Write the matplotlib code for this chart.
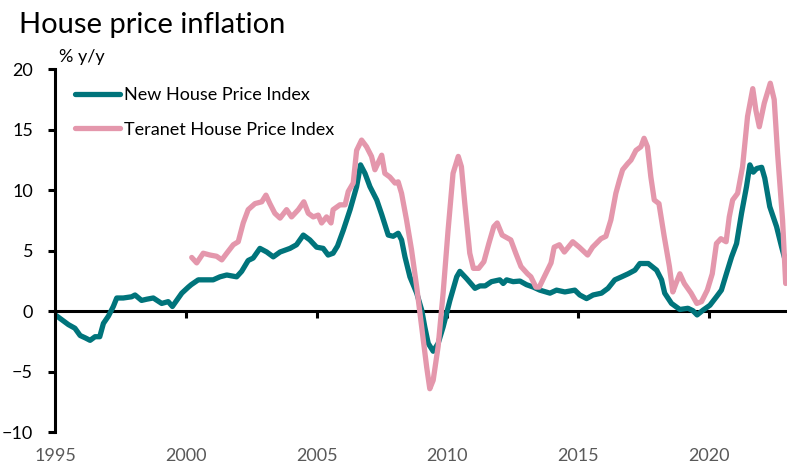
import matplotlib
matplotlib.use('Agg')
import matplotlib.pyplot as plt

plt.rcParams['font.family'] = ['Lato', 'DejaVu Sans']

# ---- data (decimal years, % y/y) ----
nhpi_x = [1995.0, 1995.25, 1995.5, 1995.75, 1995.95, 1996.15, 1996.33, 1996.52, 1996.7, 1996.84,
          1997.03, 1997.22, 1997.35, 1997.6, 1997.92, 1998.05, 1998.3, 1998.5, 1998.75, 1999.07,
          1999.32, 1999.48, 1999.84, 2000.09, 2000.2, 2000.47, 2000.73, 2001.04, 2001.3, 2001.56,
          2001.94, 2002.13, 2002.38, 2002.57, 2002.83, 2003.09, 2003.34, 2003.6, 2003.98, 2004.23,
          2004.49, 2004.74, 2005.0, 2005.25, 2005.44, 2005.63, 2005.8, 2006.02, 2006.28, 2006.53,
          2006.68, 2006.85, 2007.04, 2007.3, 2007.49, 2007.74, 2007.93, 2008.12, 2008.25, 2008.38,
          2008.57, 2008.83, 2009.02, 2009.14, 2009.27, 2009.46, 2009.65, 2009.84, 2010.1, 2010.36,
          2010.48, 2010.74, 2011.06, 2011.25, 2011.45, 2011.69, 2012.01, 2012.14, 2012.27, 2012.52,
          2012.78, 2013.03, 2013.29, 2013.54, 2013.93, 2014.18, 2014.5, 2014.88, 2015.07, 2015.33,
          2015.58, 2015.9, 2016.15, 2016.41, 2016.67, 2016.92, 2017.18, 2017.37, 2017.69, 2018.01,
          2018.2, 2018.32, 2018.58, 2018.9, 2019.21, 2019.4, 2019.56, 2019.79, 2020.05, 2020.3,
          2020.49, 2020.68, 2020.88, 2021.07, 2021.26, 2021.45, 2021.58, 2021.71, 2021.84, 2022.03,
          2022.15, 2022.34, 2022.6, 2022.79, 2022.92]
nhpi_y = [-0.3, -0.7, -1.1, -1.4, -2.0, -2.2, -2.4, -2.1, -2.1, -1.0,
          -0.4, 0.4, 1.1, 1.1, 1.2, 1.35, 0.9, 1.0, 1.1, 0.65,
          0.8, 0.4, 1.5, 2.0, 2.2, 2.6, 2.6, 2.6, 2.85, 3.0,
          2.85, 3.3, 4.2, 4.4, 5.2, 4.9, 4.5, 4.9, 5.2, 5.5,
          6.3, 5.9, 5.3, 5.2, 4.65, 4.8, 5.4, 6.7, 8.4, 10.3,
          12.1, 11.4, 10.3, 9.2, 8.0, 6.3, 6.2, 6.45, 5.9, 4.5,
          2.85, 1.5, 0.1, -1.3, -2.65, -3.3, -2.65, -1.3, 0.9, 2.85,
          3.3, 2.7, 1.9, 2.1, 2.1, 2.45, 2.6, 2.3, 2.6, 2.45,
          2.5, 2.2, 2.0, 1.75, 1.5, 1.75, 1.6, 1.75, 1.35, 1.05,
          1.35, 1.5, 1.9, 2.6, 2.85, 3.1, 3.4, 3.95, 3.95, 3.4,
          2.6, 1.5, 0.65, 0.15, 0.25, 0.05, -0.3, 0.1, 0.5, 1.2,
          1.75, 3.1, 4.5, 5.6, 8.1, 10.3, 12.1, 11.5, 11.8, 11.9,
          11.0, 8.65, 7.0, 5.35, 4.3]

teranet_x = [2000.22, 2000.41, 2000.66, 2000.92, 2001.17, 2001.37, 2001.56, 2001.81, 2002.0, 2002.19,
             2002.38, 2002.64, 2002.9, 2003.06, 2003.21, 2003.4, 2003.6, 2003.85, 2004.04, 2004.3,
             2004.51, 2004.68, 2004.87, 2005.06, 2005.19, 2005.38, 2005.55, 2005.63, 2005.89, 2006.09,
             2006.21, 2006.4, 2006.53, 2006.72, 2006.91, 2007.1, 2007.23, 2007.49, 2007.61, 2007.8,
             2008.0, 2008.12, 2008.25, 2008.44, 2008.63, 2008.83, 2009.02, 2009.21, 2009.33, 2009.46,
             2009.65, 2009.84, 2010.03, 2010.22, 2010.42, 2010.54, 2010.67, 2010.86, 2011.0, 2011.2,
             2011.4, 2011.59, 2011.78, 2011.91, 2012.1, 2012.43, 2012.62, 2012.82, 2013.07, 2013.2,
             2013.39, 2013.52, 2013.71, 2013.97, 2014.09, 2014.29, 2014.48, 2014.8, 2015.05, 2015.37,
             2015.56, 2015.88, 2016.07, 2016.14, 2016.26, 2016.45, 2016.59, 2016.71, 2016.9, 2017.03,
             2017.22, 2017.41, 2017.53, 2017.66, 2017.79, 2017.92, 2018.1, 2018.3, 2018.5, 2018.63,
             2018.75, 2018.9, 2019.07, 2019.33, 2019.55, 2019.73, 2019.95, 2020.14, 2020.3, 2020.47,
             2020.67, 2020.79, 2020.92, 2021.11, 2021.3, 2021.49, 2021.69, 2021.81, 2021.94, 2022.13,
             2022.36, 2022.51, 2022.64, 2022.83, 2022.95]
teranet_y = [4.45, 4.0, 4.8, 4.65, 4.55, 4.25, 4.8, 5.5, 5.75, 7.3,
             8.4, 8.9, 9.05, 9.6, 8.9, 8.1, 7.7, 8.4, 7.8, 8.4,
             9.05, 8.1, 7.8, 7.95, 7.3, 7.8, 7.3, 8.4, 8.8, 8.8,
             9.9, 10.6, 13.3, 14.15, 13.6, 12.8, 11.7, 12.9, 11.4, 11.1,
             10.6, 10.7, 9.75, 7.55, 5.1, 2.0, -1.3, -4.6, -6.4, -5.7,
             -2.9, 1.5, 6.7, 11.4, 12.8, 11.95, 8.9, 4.8, 3.55, 3.55,
             4.1, 5.6, 7.0, 7.3, 6.3, 5.9, 4.8, 3.7, 3.1, 2.85,
             2.0, 2.0, 2.85, 4.0, 5.3, 5.5, 4.9, 5.75, 5.3, 4.65,
             5.3, 6.0, 6.2, 6.7, 7.55, 9.75, 10.85, 11.7, 12.2, 12.5,
             13.3, 13.6, 14.3, 13.6, 11.1, 9.2, 8.9, 6.2, 3.7, 1.6,
             2.3, 3.1, 2.3, 1.5, 0.65, 0.8, 1.75, 3.1, 5.6, 6.0,
             5.75, 7.8, 9.2, 9.75, 11.95, 16.1, 18.4, 16.6, 15.25, 17.2,
             18.85, 17.5, 13.05, 7.55, 2.3]

year_ticks = [1995, 2000, 2005, 2010, 2015, 2020]
value_ticks = [-10, -5, 0, 5, 10, 15, 20]

TEAL = '#00747B'
PINK = '#E497AC'

fig = plt.figure(figsize=(7.87, 4.66), dpi=100)
ax = fig.add_axes([0.0703, 0.0723, 0.9297, 0.779])

ax.plot(nhpi_x, nhpi_y, color=TEAL, lw=3.8, solid_joinstyle='round', solid_capstyle='round',
        label='New House Price Index')
ax.plot(teranet_x, teranet_y, color=PINK, lw=3.8, solid_joinstyle='round', solid_capstyle='round',
        label='Teranet House Price Index')

ax.set_xlim(1995, 2023)
ax.set_ylim(-10, 20)

# axes: left spine + x axis drawn through zero
for s in ['top', 'right']:
    ax.spines[s].set_visible(False)
ax.spines['bottom'].set_position(('data', 0))
ax.spines['bottom'].set_linewidth(2.2)
ax.spines['left'].set_linewidth(2.2)
ax.spines['bottom'].set_zorder(1)

ax.set_xticks(year_ticks)
ax.tick_params(axis='x', direction='out', length=5, width=2.2, labelbottom=False)
ax.set_yticks(value_ticks)
ax.tick_params(axis='y', direction='out', length=5, width=2.2, pad=11, labelsize=13, labelcolor='black')

# year labels sit at the bottom of the plot, not on the zero line
sec = ax.secondary_xaxis('bottom')
sec.set_xticks(year_ticks)
sec.spines['bottom'].set_visible(False)
sec.tick_params(length=0, pad=11, labelsize=13, labelcolor='#595959')

ax.legend(loc='upper left', bbox_to_anchor=(0.086, 0.829), bbox_transform=fig.transFigure,
          frameon=False, fontsize=13, handlelength=2.5, handletextpad=0.2, labelspacing=1.03,
          borderaxespad=0)

fig.text(19 / 787, 1 - 33.5 / 466, 'House price inflation', fontsize=21, va='baseline')
fig.text(59 / 787, 1 - 62 / 466, '% y/y', fontsize=13, va='baseline')

fig.savefig('out.png', dpi=100)
plt.close(fig)
